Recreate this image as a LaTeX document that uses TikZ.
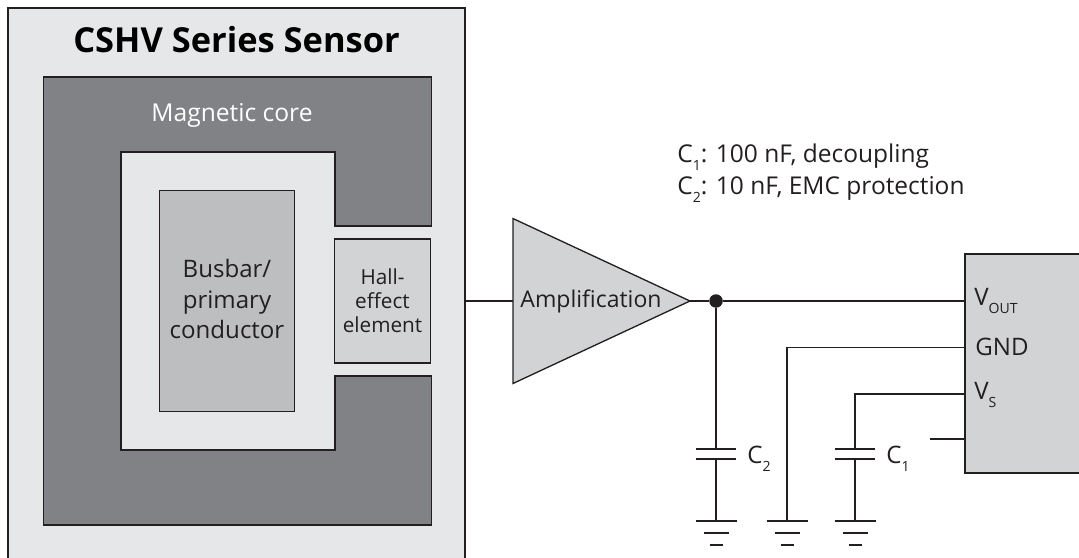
\documentclass[tikz,border=0pt]{standalone}
\usepackage{fontspec}
\setmainfont{Open Sans}
\usetikzlibrary{positioning, calc, shapes.geometric}
\definecolor{cShell}{HTML}{E6E7E8}
\definecolor{cCore}{HTML}{808285}
\definecolor{cBar}{HTML}{BCBEC0}
\definecolor{cPart}{HTML}{D1D3D4}
\definecolor{cLine}{HTML}{231F20}
\newcommand{\lowsub}[1]{\raisebox{-0.34em}{\fontsize{8}{9}\selectfont #1}}
\tikzset{
    wire/.style={cLine, line width=0.85pt},
    thinwire/.style={cLine, line width=0.75pt},
    outline/.style={draw=cLine, line width=0.75pt},
    block/.style={outline, rectangle, inner sep=0pt, outer sep=0pt},
    txt/.style={inner sep=0pt, font=\fontsize{13.7}{17.4}\selectfont, text=cLine, align=center},
    smalltxt/.style={txt, font=\fontsize{11.8}{13.6}\selectfont},
    notetxt/.style={txt, anchor=base west, font=\fontsize{13.95}{17.4}\selectfont},
}
\begin{document}
\begin{tikzpicture}[x=0.02cm, y=-0.02cm]
    \useasboundingbox (0, 0) rectangle (1079, 558);

    % Sensor housing, cut off at the bottom
    \fill[cShell] (8, 8) rectangle (465, 558);
    \draw[outline] (8, 558) -- (8, 8) -- (465, 8) -- (465, 558);
    \node[txt, font=\fontsize{19.6}{22}\selectfont\bfseries, text=black] (title) at (236.5, 40) {CSHV Series Sensor};

    % Magnetic core
    \draw[outline, fill=cCore] (43.5, 77) -- (431.5, 77) -- (431.5, 226) -- (335, 226) -- (335, 152) -- (121, 152)
        -- (121, 450) -- (335, 450) -- (335, 376) -- (431.5, 376) -- (431.5, 525) -- (43.5, 525) -- cycle;
    \node[txt, font=\fontsize{14}{17.6}\selectfont, text=white] (corelabel) at (232, 115) {Magnetic core};

    % Busbar and Hall element
    \node[block, fill=cBar, minimum width=2.7cm, minimum height=4.42cm] (busbar) at (227, 301) {};
    \node[txt] (busbarlabel) at (227, 299) {Busbar/\\primary\\conductor};
    \node[block, fill=cPart, minimum width=1.93cm, minimum height=2.48cm, smalltxt] (hall) at (382.5, 301)
        {Hall-\\effect\\element};

    % Amplifier
    \coordinate (sensorout) at (465, 301);
    \node[outline, fill=cPart, isosceles triangle, isosceles triangle stretches, minimum width=3.3cm, minimum height=3.54cm,
        inner sep=0pt, outer sep=0pt, anchor=west] (amp) at (513, 301) {};
    \node[txt, font=\fontsize{13.1}{17.6}\selectfont] (amplabel) at (591, 301) {Amplification};
    \draw[thinwire] (sensorout) -- (amp.west);

    % Output block, cut off at the right
    \fill[cPart] (965, 254) rectangle (1079, 473);
    \draw[outline] (1079, 254) -- (965, 254) -- (965, 473) -- (1079, 473);
    \coordinate (pinout) at (965, 301);
    \coordinate (pingnd) at (965, 347.5);
    \coordinate (pinvs) at (965, 394);
    \coordinate (pinfree) at (965, 439);
    \coordinate (freeend) at (930, 439);
    \node[txt, anchor=base west] (vout) at (974, 305) {V\lowsub{OUT}};
    \node[txt, anchor=base west] (gnd) at (975, 355) {GND};
    \node[txt, anchor=base west] (vs) at (974, 399) {V\lowsub{S}};

    % Junction and wiring
    \node[circle, fill=cLine, inner sep=0pt, minimum size=0.27cm] (junction) at (716, 301) {};
    \draw[wire] (amp.east) -- (junction) -- (pinout);
    \draw[thinwire] (pingnd) -- (787, 347.5) coordinate (gndcorner) -- (787, 521) coordinate (gndB);
    \draw[thinwire] (pinvs) -- (855, 394) coordinate (vscorner) -- (855, 449) coordinate (capAtop);
    \draw[thinwire] (pinfree) -- (freeend);
    \coordinate (capBtop) at (716, 449);
    \coordinate (capAbot) at (855, 459);
    \coordinate (capBbot) at (716, 459);
    \coordinate (gndA) at (855, 521);
    \coordinate (gndC) at (716, 521);
    \draw[wire] (junction) -- (capBtop);
    \draw[wire] (capAbot) -- (gndA);
    \draw[wire] (capBbot) -- (gndC);

    % Capacitor plates
    \foreach \c in {capAtop, capAbot, capBtop, capBbot} {
        \draw[thinwire] ($(\c)+(-20, 0)$) -- ($(\c)+(20, 0)$);
    }

    % Ground symbols
    \foreach \g in {gndA, gndB, gndC} {
        \draw[wire, line width=1.1pt] ($(\g)+(-20.5, 0)$) -- ($(\g)+(20.5, 0)$);
        \draw[wire, line width=1.1pt] ($(\g)+(-12.5, 12)$) -- ($(\g)+(12.5, 12)$);
        \draw[wire, line width=1.1pt] ($(\g)+(-6.5, 24)$) -- ($(\g)+(6.5, 24)$);
    }

    % Labels
    \node[txt, anchor=base west] (capBlabel) at (747, 463) {C\lowsub{2}};
    \node[txt, anchor=base west] (capAlabel) at (886, 463) {C\lowsub{1}};
    \node[notetxt] (noteA) at (677, 162) {C\lowsub{1}: 100 nF, decoupling};
    \node[notetxt] (noteB) at (677, 194) {C\lowsub{2}: 10 nF, EMC protection};
\end{tikzpicture}
\end{document}
